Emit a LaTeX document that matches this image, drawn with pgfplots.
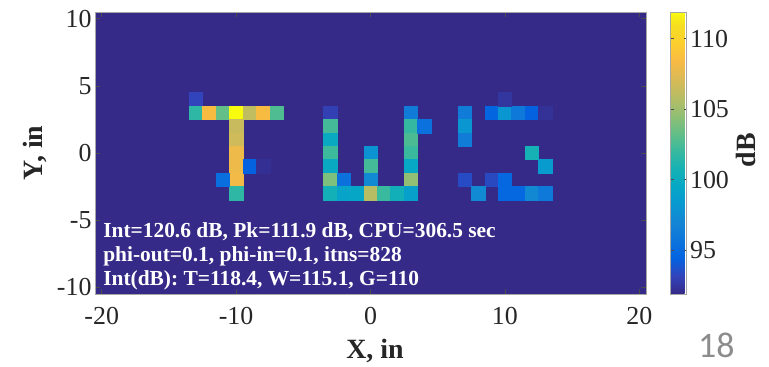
\documentclass[border=0pt]{standalone}
\usepackage{pgfplots}
\pgfplotsset{compat=1.18}
\usepackage{pgfplotstable}
\usepackage{fontspec}
\setmainfont{Liberation Serif}
\newfontfamily\carlito{Carlito}
\definecolor{bgpar}{RGB}{53,42,135}

\pgfplotstableread{
x y z
-13 4 93.2
-13 3 101.7
-12 3 108.5
-11 3 103.3
-10 3 111.9
-9 3 106.2
-8 3 108.5
-7 3 102.7
-10 2 106.5
-10 1 106.8
-10 0 108
-10 -1 108
-10 -2 108.2
-10 -3 101.7
-9 -1 94.4
-8 -1 92.2
-11 -2 95.3
-3 3 93
-3 2 102.4
-3 1 99.8
-3 0 102.2
-3 -1 99.8
-3 -2 104
-3 -3 100.6
-2 -2 95.4
-2 -3 99.2
-1 -3 99.4
0 0 97.9
0 -1 102.4
0 -2 97.3
0 -3 105.9
1 -3 102.1
2 -3 100.5
3 3 96.3
3 2 101.9
3 1 102.6
3 0 102.1
3 -1 99.6
3 -2 104.6
3 -3 98.9
4 2 95.4
7 3 96.3
7 2 98.1
7 1 96.3
9 3 94.6
10 3 98.1
11 3 96
12 3 94.4
13 3 92.3
10 4 92.5
12 0 100.8
13 -1 98.6
7 -2 93.5
9 -2 93.4
10 -2 94.8
8 -3 97.3
10 -3 94.8
11 -3 94.8
12 -3 97.2
13 -3 96
}\cells

\begin{document}
\begin{tikzpicture}
\begin{axis}[
  scale only axis, width=551bp, height=282bp,
  xmin=-20.5, xmax=20.5, ymin=-10.5, ymax=10.5,
  clip=false,
  axis on top,
  axis background/.style={fill=bgpar},
  colormap={parula}{rgb255(0cm)=(53,42,135); rgb255(4cm)=(50,67,186);
    rgb255(8cm)=(3,99,225); rgb255(12cm)=(13,117,220); rgb255(16cm)=(20,133,212);
    rgb255(20cm)=(9,152,209); rgb255(24cm)=(6,167,198); rgb255(28cm)=(21,177,180);
    rgb255(32cm)=(56,185,158); rgb255(36cm)=(101,190,134); rgb255(40cm)=(146,191,115);
    rgb255(44cm)=(183,189,100); rgb255(48cm)=(217,186,86); rgb255(52cm)=(248,186,68);
    rgb255(56cm)=(252,206,46); rgb255(60cm)=(245,222,33); rgb255(63cm)=(249,251,14)},
  point meta min=91.9, point meta max=111.9,
  xtick={-20,-10,0,10,20}, xticklabels={-20,-10,0,10,20},
  ytick={-10,-5,0,5,10}, yticklabels={-10,-5,0,5,10},
  tick align=inside, major tick length=5bp,
  axis line style={gray!70},
  tick style={black!70, line width=0.5pt},
  ticklabel style={font=\rmfamily\fontsize{26}{28}\selectfont, text=black!85},
  xticklabel style={yshift=-10bp},
  xlabel={X, in}, ylabel={Y, in},
  label style={font=\bfseries\fontsize{28}{30}\selectfont, text=black!85},
  xlabel style={at={(axis description cs:0.508,-0.2305)}, anchor=base},
  ylabel style={at={(axis description cs:-0.0962,0.5)}, anchor=base},
  colorbar,
  colorbar style={
    width=16bp, at={(parent axis.north east)}, anchor=north west, xshift=16bp,
    ytick={95,100,105,110}, yticklabels={95,100,105,110},
    axis line style={gray!70},
    tick align=inside, major tick length=3bp,
    yticklabel style={font=\rmfamily\fontsize{26}{28}\selectfont, text=black!85},
    ylabel={dB},
    ylabel style={font=\bfseries\fontsize{28}{30}\selectfont, text=black!85,
      at={(axis description cs:5.3,0.51)}, anchor=base},
  },
]
\addplot[scatter, only marks, mark=square*, mark size=6.72bp,
  point meta=explicit,
  scatter/use mapped color={draw=mapped color, fill=mapped color}]
  table[x=x, y=y, meta=z] {\cells};

\node[anchor=base west, inner sep=0, text=white, font=\bfseries\fontsize{21.5}{24}\selectfont]
  at (axis cs:-19.9,-6.26) {Int=120.6 dB, Pk=111.9 dB, CPU=306.5 sec};
\node[anchor=base west, inner sep=0, text=white, font=\bfseries\fontsize{21.5}{24}\selectfont]
  at (axis cs:-19.9,-8.08) {phi-out=0.1, phi-in=0.1, itns=828};
\node[anchor=base west, inner sep=0, text=white, font=\bfseries\fontsize{21.5}{24}\selectfont]
  at (axis cs:-19.9,-9.89) {Int(dB): T=118.4, W=115.1, G=110};

\node[anchor=base west, inner sep=0, text=black!45, font=\carlito\fontsize{36}{40}\selectfont]
  at (axis cs:24.37,-15.2) {18};

\path (axis cs:-27.57,11.39) rectangle (axis cs:29.65,-15.76);
\end{axis}
\end{tikzpicture}
\end{document}
